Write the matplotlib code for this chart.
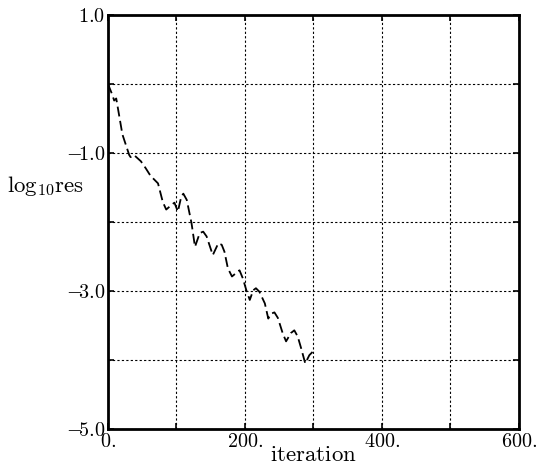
import matplotlib
matplotlib.use("Agg")
import matplotlib.pyplot as plt
from matplotlib.ticker import MultipleLocator, FixedLocator

plt.rcParams['mathtext.fontset'] = 'cm'
plt.rcParams['font.family'] = 'serif'
plt.rcParams['font.serif'] = ['DejaVu Serif']

# residual history
iteration = [0, 6, 9, 12, 16, 21, 26, 31, 33, 38, 48, 55, 62, 73, 80, 85,
             93, 97, 102, 107, 110, 115, 122, 127, 134, 139, 144, 153, 161,
             166, 170, 175, 181, 187, 192, 197, 202, 207, 212, 216, 221,
             229, 234, 238, 243, 248, 255, 260, 267, 272, 277, 282, 288,
             294, 299]
log_res = [0.0, -0.15, -0.24, -0.21, -0.44, -0.73, -0.88, -1.03, -1.06,
           -1.03, -1.12, -1.22, -1.33, -1.44, -1.71, -1.82, -1.75, -1.72,
           -1.85, -1.63, -1.59, -1.68, -2.02, -2.36, -2.16, -2.14, -2.21,
           -2.48, -2.31, -2.33, -2.43, -2.67, -2.79, -2.74, -2.70, -2.82,
           -2.99, -3.13, -2.99, -2.96, -3.01, -3.18, -3.40, -3.33, -3.31,
           -3.39, -3.61, -3.73, -3.61, -3.57, -3.66, -3.83, -4.05, -3.93,
           -3.88]

x_ticks = [0, 200, 400, 600]
x_tick_labels = ['0.', '200.', '400.', '600.']
y_ticks = [1, -1, -3, -5]
y_tick_labels = ['1.0', '-1.0', '-3.0', '-5.0']

fig = plt.figure(figsize=(5.4, 4.71), dpi=100)
ax = fig.add_axes([0.2, 0.0892, 0.761, 0.879])

ax.plot(iteration, log_res, color='black', lw=1.3, linestyle=(0, (5.5, 2.5)))

ax.set_xlim(0, 600)
ax.set_ylim(-5, 1)
ax.xaxis.set_major_locator(FixedLocator(x_ticks))
ax.set_xticklabels([r'$\mathrm{%s}$' % t for t in x_tick_labels])
ax.yaxis.set_major_locator(FixedLocator(y_ticks))
ax.set_yticklabels([r'$\mathrm{%s}$' % t.replace('-', r'-\!') for t in y_tick_labels])
ax.xaxis.set_minor_locator(MultipleLocator(100))
ax.yaxis.set_minor_locator(MultipleLocator(1))

ax.grid(which='both', color='black', linestyle=(0, (2, 2)), lw=0.8)
ax.tick_params(which='both', direction='in', length=4, width=1.2,
               top=True, right=True, labelsize=14.5, pad=2)

for s in ax.spines.values():
    s.set_linewidth(2)

ax.set_xlabel(r'$\mathrm{iteration}$', fontsize=16.5, labelpad=-5)
ax.text(-0.245, 0.587, r'$\mathrm{log}_{10}\mathrm{res}$', transform=ax.transAxes,
        fontsize=16.5, ha='left', va='center')

fig.savefig('out.png', dpi=100)
